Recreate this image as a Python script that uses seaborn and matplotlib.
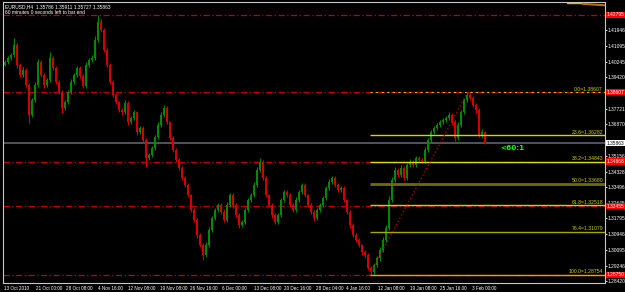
import numpy as np
import pandas as pd
import matplotlib
matplotlib.use("Agg")
import matplotlib.pyplot as plt
import matplotlib.transforms as mtransforms
import seaborn as sns

# ---------------- data ----------------
# one candle per 3 H4 bars
closes = [
    1.4024, 1.4046, 1.4062, 1.4116, 1.4008, 1.3954, 1.3981, 1.3900, 1.3738, 1.3819,
    1.3900, 1.4024, 1.3954, 1.3900, 1.3927, 1.4046, 1.3992, 1.3916, 1.3862, 1.3776,
    1.3808, 1.3862, 1.3916, 1.3954, 1.3992, 1.3948, 1.3894, 1.4008, 1.4035, 1.4046,
    1.4143, 1.4240, 1.4197, 1.4089, 1.4008, 1.3916, 1.3846, 1.3808, 1.3765, 1.3754,
    1.3803, 1.3700, 1.3722, 1.3754, 1.3646, 1.3668, 1.3603, 1.3506, 1.3522, 1.3560,
    1.3619, 1.3684, 1.3738, 1.3776, 1.3700, 1.3614, 1.3549, 1.3495, 1.3452, 1.3398,
    1.3360, 1.3306, 1.3225, 1.3171, 1.3090, 1.3036, 1.2982, 1.3036, 1.3117, 1.3181,
    1.3225, 1.3252, 1.3214, 1.3171, 1.3252, 1.3306, 1.3252, 1.3197, 1.3144, 1.3160,
    1.3225, 1.3279, 1.3306, 1.3360, 1.3441, 1.3484, 1.3398, 1.3306, 1.3252, 1.3197,
    1.3160, 1.3197, 1.3279, 1.3322, 1.3306, 1.3252, 1.3225, 1.3279, 1.3322, 1.3360,
    1.3306, 1.3252, 1.3214, 1.3181, 1.3225, 1.3252, 1.3290, 1.3344, 1.3376, 1.3398,
    1.3360, 1.3333, 1.3344, 1.3279, 1.3214, 1.3144, 1.3090, 1.3063, 1.3036, 1.2998,
    1.2982, 1.2912, 1.2890, 1.2928, 1.2966, 1.3009, 1.3063, 1.3127, 1.3279, 1.3387,
    1.3441, 1.3414, 1.3452, 1.3398, 1.3468, 1.3484, 1.3468, 1.3506, 1.3495, 1.3490,
    1.3549, 1.3603, 1.3646, 1.3668, 1.3684, 1.3700, 1.3711, 1.3722, 1.3738, 1.3700,
    1.3614, 1.3684, 1.3754, 1.3819, 1.3846, 1.3830, 1.3792, 1.3765, 1.3630, 1.3646,
    1.35863,
]
first_open = 1.4010
upper_wick_pips = [
    10, 12, 8, 37, 9, 11, 14, 10, 8, 12,
    15, 18, 9, 10, 12, 32, 10, 8, 11, 9,
    12, 10, 14, 11, 13, 9, 10, 15, 12, 18,
    20, 38, 15, 10, 8, 9, 11, 10, 8, 12,
    14, 9, 11, 13, 8, 10, 12, 9, 11, 13,
    12, 15, 14, 18, 10, 8, 9, 11, 10, 8,
    9, 10, 8, 11, 9, 10, 12, 15, 14, 12,
    13, 10, 12, 15, 14, 11, 10, 9, 12, 13,
    11, 12, 10, 14, 16, 22, 10, 9, 8, 10,
    12, 14, 13, 11, 10, 9, 12, 14, 10, 13,
    9, 8, 10, 12, 11, 13, 12, 10, 14, 12,
    10, 11, 12, 9, 8, 10, 9, 11, 10, 8,
    9, 10, 11, 13, 12, 14, 15, 18, 20, 16,
    14, 12, 15, 13, 12, 14, 10, 12, 11, 13,
    14, 12, 13, 11, 12, 10, 13, 12, 14, 10,
    12, 14, 13, 12, 15, 10, 9, 12, 10, 14,
    5,
]
lower_wick_pips = [
    9, 10, 12, 11, 14, 10, 12, 13, 43, 11,
    10, 9, 12, 14, 11, 10, 12, 13, 11, 25,
    10, 12, 9, 11, 10, 13, 12, 9, 10, 11,
    9, 10, 12, 13, 10, 12, 11, 13, 12, 14,
    10, 15, 12, 11, 14, 12, 13, 49, 12, 10,
    11, 9, 10, 12, 13, 11, 12, 10, 13, 11,
    12, 13, 11, 10, 14, 12, 27, 10, 11, 12,
    10, 12, 11, 13, 10, 12, 14, 11, 15, 12,
    10, 11, 12, 10, 9, 11, 12, 13, 10, 14,
    12, 10, 11, 9, 12, 10, 13, 11, 10, 12,
    11, 13, 12, 14, 10, 11, 12, 10, 9, 11,
    12, 10, 11, 13, 12, 14, 11, 12, 13, 15,
    14, 12, 15, 13, 12, 14, 11, 12, 10, 11,
    12, 10, 13, 11, 12, 10, 11, 12, 10, 11,
    12, 10, 11, 13, 10, 12, 11, 10, 12, 14,
    16, 11, 10, 12, 10, 11, 13, 14, 12, 15,
    6,
]

date_labels = ["13 Oct 2010", "21 Oct 00:00", "28 Oct 08:00", "4 Nov 16:00",
               "12 Nov 08:00", "19 Nov 08:00", "26 Nov 16:00", "6 Dec 00:00",
               "13 Dec 08:00", "20 Dec 16:00", "28 Dec 04:00", "4 Jan 16:00",
               "12 Jan 08:00", "19 Jan 08:00", "25 Jan 16:00", "3 Feb 00:00"]
date_bars = [0, 31, 62, 94, 124, 155, 186, 218, 249, 280, 311, 342, 374, 405, 436, 468]

price_ticks = [1.28420, 1.29246, 1.30095, 1.30946, 1.31795, 1.32645, 1.33496,
               1.34328, 1.35156, 1.36870, 1.37721, 1.39420, 1.40245, 1.41095, 1.41946]
red_lines = [1.42795, 1.38607, 1.34868, 1.32455, 1.28750]
bid = 1.35863
title_ohlc = ["1.35786", "1.35911", "1.35727", "1.35863"]

fib_high = 1.38607
fib_low = 1.28754
fib_levels = [0.0, 23.6, 38.2, 50.0, 61.8, 76.4, 100.0]
fib_colors = ["#d8c000", "#d4d400", "#dede00", "#6e6e00", "#d0d000", "#a8a800", "#f0a000"]
fib_widths = [0.8, 1.0, 1.0, 2.0, 1.0, 1.0, 1.0]
fib_start_bar = 365
fib_end_bar = 463
countdown = "<60:1"

# ---------------- figure ----------------
sns.set_style("dark")
FONT = ["DejaVu Sans Condensed", "Liberation Sans", "DejaVu Sans"]
plt.rcParams["font.family"] = FONT
FS_AX = 3.5     # price axis
FS_DT = 3.35    # date axis
FS_TX = 3.5     # header
FS_FB = 3.7     # fib labels

W, H = 625, 292
fig = plt.figure(figsize=(W / 100, H / 100), dpi=100, facecolor="black")
ax = fig.add_axes([3 / W, 9 / H, 602 / W, 281 / H])
ax.set_facecolor("black")

step = 3
n = len(closes)
xs = np.arange(n) * step
opens = [first_open] + closes[:-1]
highs = [max(o, c) + u * 1e-4 for o, c, u in zip(opens, closes, upper_wick_pips)]
lows = [min(o, c) - l * 1e-4 for o, c, l in zip(opens, closes, lower_wick_pips)]
up_col, dn_col = "#008a00", "#d40000"
cols = [up_col if c >= o else dn_col for o, c in zip(opens, closes)]

ax.vlines(xs, lows, highs, colors=cols, linewidth=0.8, zorder=3)
bodies = [max(abs(c - o), 0.00025) for o, c in zip(opens, closes)]
ax.bar(xs, bodies, bottom=[min(o, c) for o, c in zip(opens, closes)],
       width=1.6, color=cols, linewidth=0, zorder=3)

xmin, xmax = -1.5, 600.5
ymin, ymax = 1.28312, 1.43477
ax.set_xlim(xmin, xmax)
ax.set_ylim(ymin, ymax)

# red horizontal lines
for p in red_lines:
    ax.axhline(p, color="#c00000", lw=0.9, dashes=(5, 2, 1, 2), zorder=2)

# bid line
ax.axhline(bid, color="#50545c", lw=1.4, zorder=1)

# fibonacci
rng = fib_high - fib_low
for lvl, c, lw in zip(fib_levels, fib_colors, fib_widths):
    p = fib_high - rng * lvl / 100.0
    if lvl == 0.0:
        ax.hlines(p, fib_start_bar, xmax, color=c, lw=lw, linestyles=(0, (2, 3)), zorder=4)
    else:
        ax.hlines(p, fib_start_bar, xmax, color=c, lw=lw, zorder=4)
    ax.text(xmax - 2, p + 0.0003, f"{lvl:.1f}={p:.5f}", color="#d0d000",
            fontsize=FS_FB, ha="right", va="bottom", zorder=5)

trend = pd.DataFrame({"bar": [fib_start_bar, fib_end_bar], "price": [fib_low, fib_high]})
sns.lineplot(data=trend, x="bar", y="price", ax=ax, color="#c00000", lw=0.9,
             linestyle=(0, (1, 2)), zorder=4)
ax.set_xlabel("")
ax.set_ylabel("")

# small indicator segment in the top-right corner
ax.plot([562, 578], [1.43400, 1.43400], color="#d8c000", lw=1.0, zorder=4)
ax.plot([578, 600], [1.43380, 1.43300], color="#c07000", lw=1.5, zorder=4)

# countdown text
ax.text(496, 1.3560, countdown, color="#00ff00", fontsize=5.2, fontweight="bold",
        family=["DejaVu Sans"], ha="left", va="center", zorder=6)

# header text
ax.text(2 / 602, 1 - 2 / 281, "EURUSD,H4  " + " ".join(title_ohlc), color="white",
        fontsize=FS_TX, ha="left", va="top", transform=ax.transAxes)
ax.text(2 / 602, 1 - 8 / 281, "60 minutes 0 seconds left to bar end", color="white",
        fontsize=FS_TX, ha="left", va="top", transform=ax.transAxes)

# axes styling
for s in ax.spines.values():
    s.set_color("#c8c8c8")
    s.set_linewidth(0.8)
ax.grid(False)

ax.yaxis.tick_right()
ax.set_yticks(price_ticks)
ax.set_yticklabels([f"{p:.5f}" for p in price_ticks])
ax.tick_params(axis="y", colors="white", labelsize=FS_AX, length=1.5, width=0.6, pad=0.6)

ax.set_xticks(date_bars)
ax.set_xticklabels(date_labels)
ax.tick_params(axis="x", colors="white", labelsize=FS_DT, length=2, width=0.6, pad=0.5)
for lbl in ax.get_xticklabels():
    lbl.set_ha("left")

# price labels on the right axis
tr = mtransforms.blended_transform_factory(ax.transAxes, ax.transData)
for p in red_lines:
    ax.text(1.003, p, f"{p:.5f}", color="white", fontsize=FS_AX, ha="left", va="center",
            transform=tr, bbox=dict(boxstyle="square,pad=0.12", fc="#ff0000", ec="none"),
            clip_on=False, zorder=7)
ax.text(1.003, bid, f"{bid:.5f}", color="black", fontsize=FS_AX, ha="left", va="center",
        transform=tr, bbox=dict(boxstyle="square,pad=0.12", fc="white", ec="none"),
        clip_on=False, zorder=7)

fig.savefig("out.png", dpi=100, facecolor="black")
